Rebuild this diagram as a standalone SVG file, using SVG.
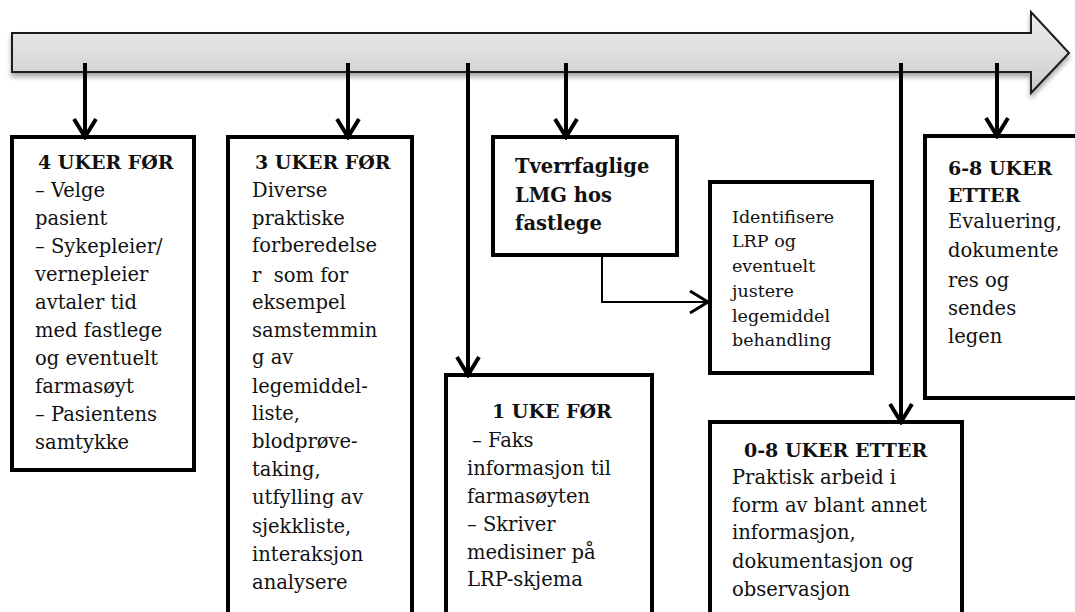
<svg xmlns="http://www.w3.org/2000/svg" width="1075" height="612" viewBox="0 0 1075 612">
<style>
.box{fill:#fff;stroke:#000;stroke-width:4}
.t{font-family:"DejaVu Serif","Liberation Serif",serif;font-size:19.5px;fill:#111}
.b{font-weight:bold}
.h{font-weight:bold;font-size:19px}
.s{font-size:17.5px}
.conn{fill:none;stroke:#000;stroke-width:4}
.thin{fill:none;stroke:#000;stroke-width:2}
</style>
<defs>
<linearGradient id="tg" x1="0" y1="0" x2="0" y2="1">
<stop offset="0" stop-color="#ececec"/>
<stop offset="0.5" stop-color="#dedede"/>
<stop offset="1" stop-color="#c9c9c9"/>
</linearGradient>
<filter id="sh" x="-5%" y="-20%" width="110%" height="160%">
<feGaussianBlur in="SourceAlpha" stdDeviation="2.5"/>
<feOffset dx="0" dy="4" result="o"/>
<feComponentTransfer><feFuncA type="linear" slope="0.35"/></feComponentTransfer>
<feMerge><feMergeNode/><feMergeNode in="SourceGraphic"/></feMerge>
</filter>
<marker id="ah" viewBox="0 0 24 26" markerWidth="24" markerHeight="26" refX="21" refY="13" orient="auto" markerUnits="userSpaceOnUse">
<path d="M3,2 L21,13 L3,24" fill="none" stroke="#000" stroke-width="4"/>
</marker>
<marker id="ahs" viewBox="0 0 24 26" markerWidth="24" markerHeight="26" refX="21" refY="13" orient="auto" markerUnits="userSpaceOnUse">
<path d="M3,2 L21,13 L3,24" fill="none" stroke="#000" stroke-width="3"/>
</marker>
</defs>
<rect width="1075" height="612" fill="#fff"/>

<g id="timeline">
<path d="M12,33 H1031 V12 L1069,53 L1031,93 V72 H12 Z" fill="url(#tg)" stroke="#1a1a1a" stroke-width="2" filter="url(#sh)"/>
</g>

<g id="node-4uker">
<rect class="box" x="12" y="137" width="182" height="333"/>
<text class="t"><tspan class="h" x="38" y="169">4 UKER FØR</tspan><tspan x="35" y="197">– Velge</tspan><tspan x="35" y="225">pasient</tspan><tspan x="35" y="253">– Sykepleier/</tspan><tspan x="35" y="281">vernepleier</tspan><tspan x="35" y="309">avtaler tid</tspan><tspan x="35" y="337">med fastlege</tspan><tspan x="35" y="365">og eventuelt</tspan><tspan x="35" y="393">farmasøyt</tspan><tspan x="35" y="421">– Pasientens</tspan><tspan x="35" y="449">samtykke</tspan></text>
</g>

<g id="node-3uker">
<rect class="box" x="228" y="137" width="184" height="490"/>
<text class="t" style="white-space:pre"><tspan class="h" x="255" y="169">3 UKER FØR</tspan><tspan x="252" y="197">Diverse</tspan><tspan x="252" y="225">praktiske</tspan><tspan x="252" y="252">forberedelse</tspan><tspan x="252" y="282">r  som for</tspan><tspan x="252" y="309">eksempel</tspan><tspan x="252" y="337">samstemmin</tspan><tspan x="252" y="364">g av</tspan><tspan x="252" y="393">legemiddel-</tspan><tspan x="252" y="420">liste,</tspan><tspan x="252" y="448">blodprøve-</tspan><tspan x="252" y="476">taking,</tspan><tspan x="252" y="504">utfylling av</tspan><tspan x="252" y="533">sjekkliste,</tspan><tspan x="252" y="561">interaksjon</tspan><tspan x="252" y="589">analysere</tspan></text>
</g>

<g id="node-tverrfaglige">
<rect class="box" x="493" y="137" width="184" height="118"/>
<text class="t b"><tspan x="515" y="173">Tverrfaglige</tspan><tspan x="515" y="202">LMG hos</tspan><tspan x="515" y="230">fastlege</tspan></text>
</g>

<g id="node-identifisere">
<rect class="box" x="710" y="182" width="162" height="191"/>
<text class="t s"><tspan x="732" y="223">Identifisere</tspan><tspan x="732" y="247">LRP og</tspan><tspan x="732" y="272">eventuelt</tspan><tspan x="732" y="297">justere</tspan><tspan x="732" y="322">legemiddel</tspan><tspan x="732" y="346">behandling</tspan></text>
</g>

<g id="node-1uke">
<rect class="box" x="446" y="375" width="206" height="260"/>
<text class="t"><tspan class="h" x="492" y="418">1 UKE FØR</tspan><tspan x="472" y="447">– Faks</tspan><tspan x="467" y="475">informasjon til</tspan><tspan x="467" y="503">farmasøyten</tspan><tspan x="467" y="531">– Skriver</tspan><tspan x="467" y="559">medisiner på</tspan><tspan x="467" y="586">LRP-skjema</tspan></text>
</g>

<g id="node-0-8uker">
<rect class="box" x="710" y="422" width="252" height="210"/>
<text class="t"><tspan class="h" x="744" y="457">0-8 UKER ETTER</tspan><tspan x="732" y="484">Praktisk arbeid i</tspan><tspan x="732" y="512">form av blant annet</tspan><tspan x="732" y="539">informasjon,</tspan><tspan x="732" y="568">dokumentasjon og</tspan><tspan x="732" y="596">observasjon</tspan></text>
</g>

<g id="node-6-8uker">
<rect class="box" x="925" y="136" width="160" height="262"/>
<text class="t"><tspan class="h" x="948" y="175">6-8 UKER</tspan><tspan class="h" x="948" y="202">ETTER</tspan><tspan x="948" y="228">Evaluering,</tspan><tspan x="948" y="257">dokumente</tspan><tspan x="948" y="287">res og</tspan><tspan x="948" y="315">sendes</tspan><tspan x="948" y="343">legen</tspan></text>
</g>

<g id="connectors">
<line class="conn" x1="85" y1="63" x2="85" y2="137" marker-end="url(#ah)"/>
<line class="conn" x1="348" y1="63" x2="348" y2="137" marker-end="url(#ah)"/>
<line class="conn" x1="468" y1="63" x2="468" y2="375" marker-end="url(#ah)"/>
<line class="conn" x1="566" y1="63" x2="566" y2="137" marker-end="url(#ah)"/>
<line class="conn" x1="901" y1="63" x2="901" y2="422" marker-end="url(#ah)"/>
<line class="conn" x1="997" y1="63" x2="997" y2="136" marker-end="url(#ah)"/>
<path class="thin" d="M602,255 V302 H708" marker-end="url(#ahs)"/>
</g>
</svg>
